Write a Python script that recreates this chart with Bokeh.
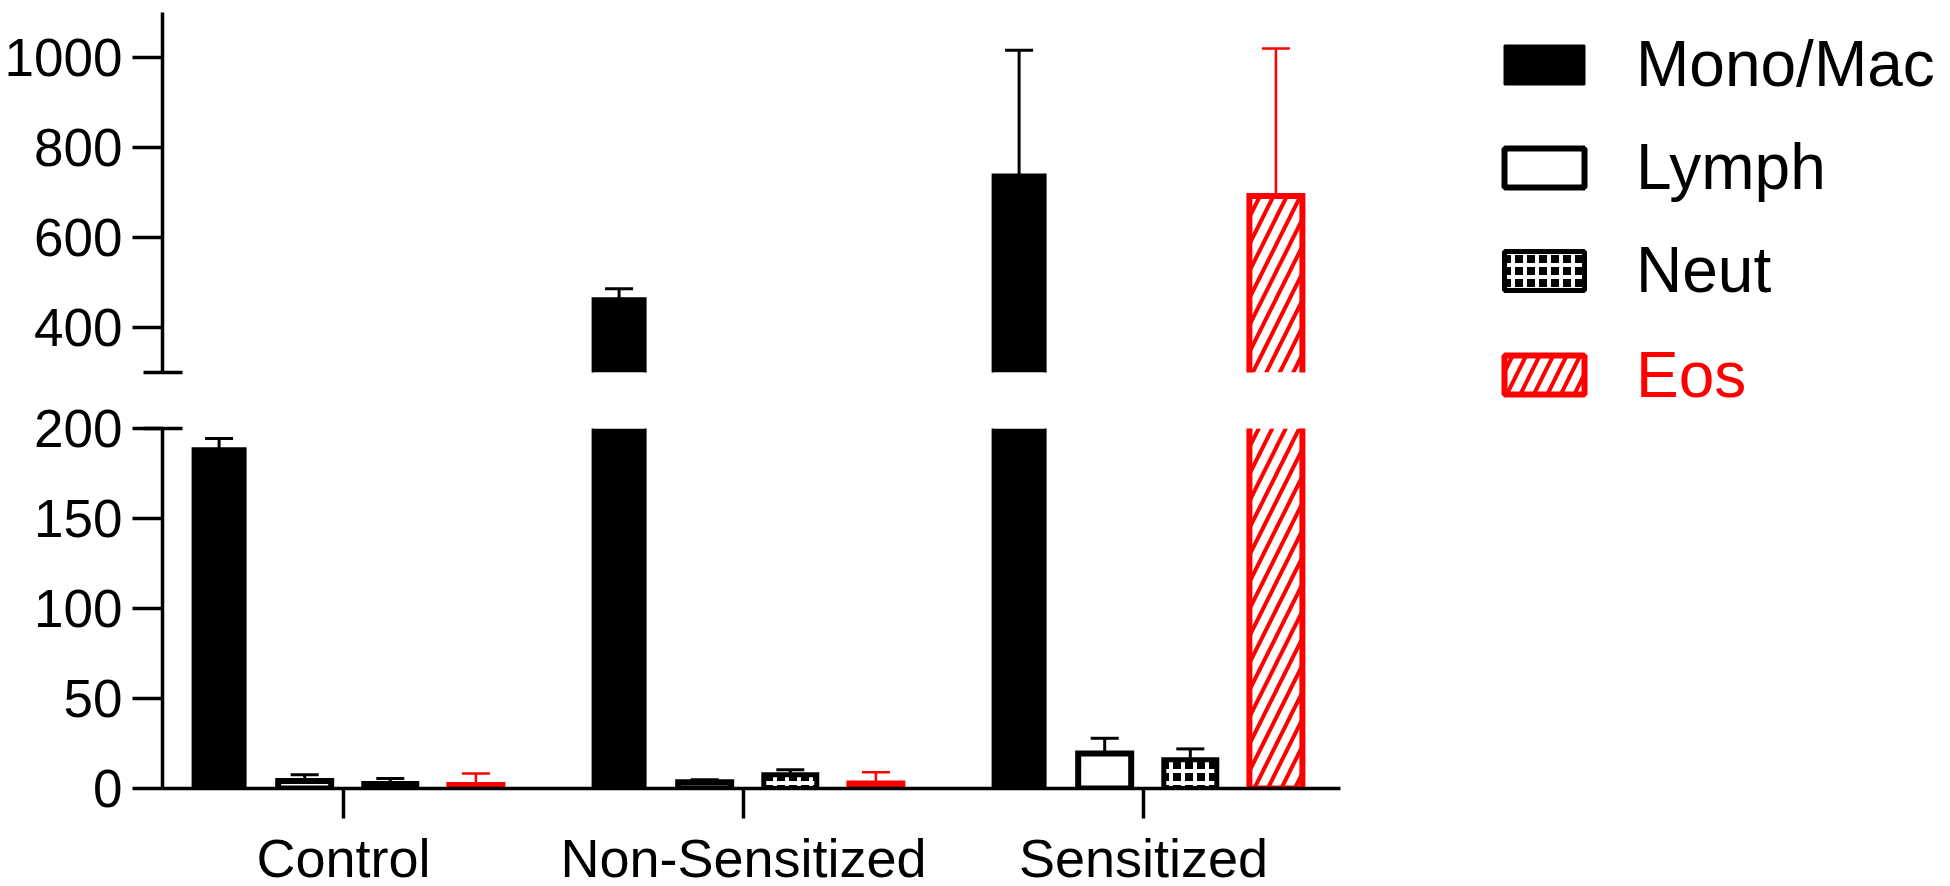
import numpy as np
from bokeh.plotting import figure
from bokeh.models import (ColumnDataSource, FixedTicker, Legend, LegendItem, Whisker,
                          TeeHead, Range1d)
from bokeh.layouts import column, row
from bokeh.embed import file_html
from bokeh.resources import INLINE

# ---------------- data ----------------
groups = ["Control", "Non-Sensitized", "Sensitized"]
cell_types = ["Mono/Mac", "Lymph", "Neut", "Eos"]
mono = [189, 465, 740]
mono_err = [5.5, 21, 276]
lymph = [4.2, 3.5, 19.5]
lymph_err = [3.4, 1.4, 8.4]
neut = [2.8, 7.6, 16]
neut_err = [2.7, 2.8, 6]
eos = [2, 2.8, 692]
eos_err = [6.3, 6.2, 328]
upper_ticks = [400, 600, 800, 1000]
lower_ticks = [0, 50, 100, 150, 200]
upper_lim = [300, 1100]
lower_lim = [0, 200]

FONT = "Liberation Sans"
centers = list(range(len(groups)))
offsets = [-0.311, -0.097, 0.117, 0.331]
bar_w = 0.1325
x_lim = (-0.4525, 2.4925)

fills = [
    dict(fill_color="black"),
    dict(fill_color="white"),
    dict(fill_color="black", hatch_pattern="+", hatch_color="white",
         hatch_scale=12, hatch_weight=4),
    dict(fill_color="white", hatch_pattern="/", hatch_color="#ff0000",
         hatch_scale=27, hatch_weight=4),
]
outlines = [
    dict(line_color="black", line_width=2),
    dict(line_color="black", line_width=6),
    dict(line_color="black", line_width=5),
    dict(line_color="#ff0000", line_width=6),
]
vals = [mono, lymph, neut, eos]
errs = [mono_err, lymph_err, neut_err, eos_err]
err_colors = ["black", "black", "black", "#ff0000"]
err_widths = [3, 3, 3, 2.5]


def style_axis(ax, size="53px"):
    ax.axis_line_width = 3.5
    ax.axis_line_color = "black"
    ax.major_tick_line_width = 3.5
    ax.major_tick_line_color = "black"
    ax.major_tick_out = 30
    ax.major_tick_in = 0
    ax.minor_tick_line_width = 3.5
    ax.minor_tick_line_color = "black"
    ax.minor_tick_out = 19
    ax.minor_tick_in = 20
    ax.major_label_text_font = FONT
    ax.major_label_text_font_size = size
    ax.major_label_text_color = "black"


def make_panel(lim, ticks, cap_tick, frame_h, top_border, bottom_border, show_x):
    p = figure(frame_width=1178, frame_height=frame_h,
               x_range=Range1d(*x_lim), y_range=Range1d(*lim),
               toolbar_location=None, output_backend="svg",
               min_border_left=162, min_border_right=10,
               min_border_top=top_border, min_border_bottom=bottom_border,
               x_axis_location="below" if show_x else None)
    p.outline_line_color = None
    p.xgrid.visible = False
    p.ygrid.visible = False
    p.background_fill_color = "white"
    p.border_fill_color = "white"
    p.yaxis.ticker = FixedTicker(ticks=ticks, minor_ticks=[cap_tick])
    style_axis(p.yaxis[0])
    p.yaxis.major_label_standoff = 10
    if show_x:
        p.xaxis.ticker = FixedTicker(ticks=centers, minor_ticks=[])
        p.xaxis.major_label_overrides = {c: g for c, g in zip(centers, groups)}
        style_axis(p.xaxis[0], "54px")
        p.xaxis.major_label_standoff = 9
    for i in range(4):
        xs, tops = [], []
        for c, v in zip(centers, vals[i]):
            if v > lim[0]:
                xs.append(c + offsets[i]); tops.append(v)
        if not xs:
            continue
        src = ColumnDataSource(dict(x=xs, top=tops))
        p.vbar(x="x", top="top", bottom=0, width=bar_w, source=src,
               line_color=None, **fills[i])
        # open outline (no clamping at the axis break)
        mxs = [[x - bar_w / 2, x - bar_w / 2, x + bar_w / 2, x + bar_w / 2, x - bar_w / 2]
               for x in xs]
        mys = [[0, t, t, 0, 0] for t in tops]
        p.multi_line(xs=mxs, ys=mys, line_join="miter", **outlines[i])
    for i in range(4):
        bx, lo, hi = [], [], []
        for c, v, e in zip(centers, vals[i], errs[i]):
            if lim[0] < v and v + e < lim[1]:
                bx.append(c + offsets[i]); lo.append(v); hi.append(v + e)
        if bx:
            wsrc = ColumnDataSource(dict(base=bx, lower=lo, upper=hi))
            w = Whisker(base="base", lower="lower", upper="upper", source=wsrc,
                        line_color=err_colors[i], line_width=err_widths[i],
                        lower_head=None,
                        upper_head=TeeHead(size=28, line_color=err_colors[i],
                                           line_width=err_widths[i]))
            p.add_layout(w)
    return p


upper = make_panel(upper_lim, upper_ticks, upper_lim[0], 360, 12, 20, False)
lower = make_panel(lower_lim, lower_ticks, lower_lim[1], 360, 36, 0, True)

# legend figure
leg = figure(width=590, height=438, x_range=Range1d(0, 1), y_range=Range1d(0, 1),
             toolbar_location=None, output_backend="svg",
             min_border_left=128, min_border_right=0, min_border_top=8, min_border_bottom=0,
             x_axis_location=None, y_axis_location=None)
leg.outline_line_color = None
leg.background_fill_color = "white"
leg.xgrid.visible = False
leg.ygrid.visible = False
rends = []
for i in range(4):
    src = ColumnDataSource(dict(x=np.array([np.nan]), top=np.array([np.nan])))
    r = leg.vbar(x="x", top="top", width=0.1, source=src, **fills[i], **outlines[i])
    rends.append(r)

common = dict(padding=0, spacing=23, glyph_width=100, glyph_height=49, label_height=80,
              label_standoff=42, label_text_font=FONT, label_text_font_size="64px",
              border_line_color=None, background_fill_alpha=0)
leg1 = Legend(items=[LegendItem(label=cell_types[i], renderers=[rends[i]]) for i in range(3)],
              location="top_left", margin=16, label_text_color="black", **common)
leg2 = Legend(items=[LegendItem(label=cell_types[3], renderers=[rends[3]])],
              location=(16, 23.5), margin=0, label_text_color="#ff0000", **common)
leg.add_layout(leg1)
leg.add_layout(leg2)

layout = row(column(upper, lower), leg)
open("out.html", "w").write(file_html(layout, INLINE))
